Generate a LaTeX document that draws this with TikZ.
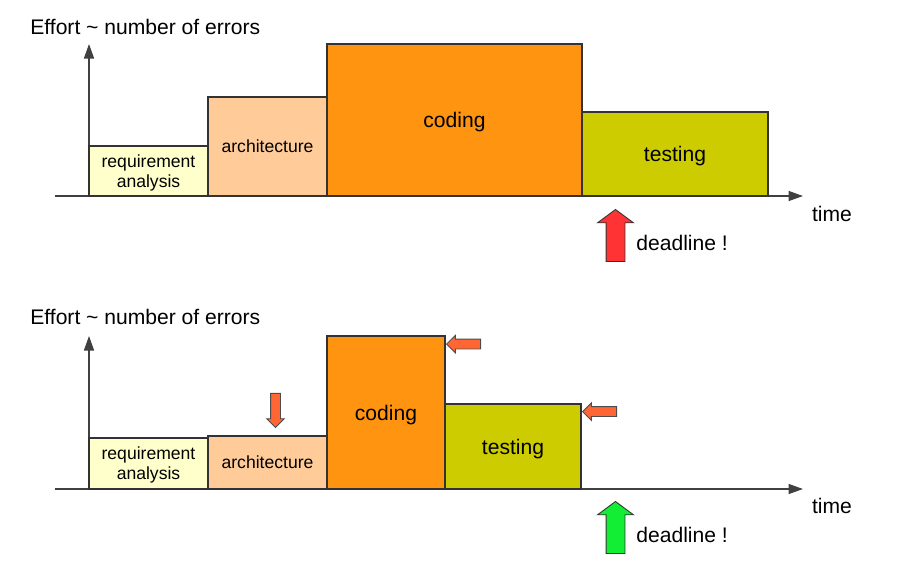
\documentclass[tikz,border=0pt]{standalone}
\usepackage{fontspec}
\setmainfont{Liberation Sans}
\usetikzlibrary{arrows.meta,positioning,shapes.arrows}

\definecolor{reqcol}{HTML}{FFFFCC}
\definecolor{archcol}{HTML}{FFCC99}
\definecolor{codcol}{HTML}{FF9411}
\definecolor{testcol}{HTML}{CCCC00}
\definecolor{hintcol}{HTML}{FF6633}
\definecolor{latecol}{HTML}{FF3333}
\definecolor{okcol}{HTML}{11EE33}

\begin{document}
\begin{tikzpicture}[
    axis/.style={
        -{Triangle[length=0.29cm,width=0.2cm]},
        line width=0.85pt,
        black!75
    },
    phase/.style={
        draw=black!80,
        line width=0.6pt,
        anchor=south west,
        align=center,
        inner sep=0pt,
        outer sep=0pt,
        text depth=0pt,
        font=\fontsize{12}{14}\selectfont
    },
    small/.style={font=\fontsize{10}{11.5}\selectfont},
    label/.style={inner sep=0pt, font=\fontsize{12}{14}\selectfont},
    deadline/.style={
        draw=black!80,
        line width=0.5pt,
        single arrow,
        shape border rotate=90,
        single arrow head extend=0.17cm,
        single arrow tip angle=107,
        minimum height=1.04cm,
        inner sep=0.18cm
    },
    hint/.style={
        draw=black!70,
        line width=0.5pt,
        fill=hintcol,
        single arrow,
        single arrow head extend=0.075cm,
        minimum height=0.68cm,
        inner sep=0.09cm
    }
]

\useasboundingbox (0,0) rectangle (17.94,-11.28);

% ============================================================
% Upper chart: late testing
% ============================================================

\node[label, anchor=west] (effort1) at (0.60,-0.54)
    {Effort \textasciitilde{} number of errors};

\coordinate (o1) at (1.78,-3.92);
\coordinate (xs1) at (1.10,-3.92);
\coordinate (xe1) at (16.06,-3.92);
\coordinate (ye1) at (1.78,-0.88);

\draw[axis] (xs1) -- (xe1);
\draw[axis] (o1) -- (ye1);

\node[phase, small, fill=reqcol, minimum width=2.38cm, minimum height=1.00cm]
    (req1) at (o1) {requirement\\analysis};

\node[phase, small, fill=archcol, minimum width=2.38cm, minimum height=1.98cm]
    (arch1) at (req1.south east) {architecture};

\node[phase, fill=codcol, minimum width=5.10cm, minimum height=3.04cm]
    (cod1) at (arch1.south east) {coding};

\node[phase, fill=testcol, minimum width=3.72cm, minimum height=1.68cm]
    (test1) at (cod1.south east) {testing};

\node[label] (time1) at (16.64,-4.28) {time};

\node[deadline, fill=latecol] (late1) at (12.31,-4.78) {};
\node[label, anchor=west] (dl1) at (12.72,-4.86) {deadline !};

% ============================================================
% Lower chart: early architecture work
% ============================================================

\node[label, anchor=west] (effort2) at (0.60,-6.34)
    {Effort \textasciitilde{} number of errors};

\coordinate (o2) at (1.78,-9.78);
\coordinate (xs2) at (1.10,-9.78);
\coordinate (xe2) at (16.06,-9.78);
\coordinate (ye2) at (1.78,-6.72);

\draw[axis] (xs2) -- (xe2);
\draw[axis] (o2) -- (ye2);

\node[phase, small, fill=reqcol, minimum width=2.38cm, minimum height=1.02cm]
    (req2) at (o2) {requirement\\analysis};

\node[phase, small, fill=archcol, minimum width=2.38cm, minimum height=1.06cm]
    (arch2) at (req2.south east) {architecture};

\node[phase, fill=codcol, minimum width=2.36cm, minimum height=3.06cm]
    (cod2) at (arch2.south east) {coding};

\node[phase, fill=testcol, minimum width=2.72cm, minimum height=1.70cm]
    (test2) at (cod2.south east) {testing};

\node[label] (time2) at (16.64,-10.12) {time};

% Shift hints
\node[hint, shape border rotate=270, anchor=tip]
    (hintarch) at ([xshift=0.16cm,yshift=0.16cm]arch2.north) {};

\node[hint, shape border rotate=180, anchor=tip]
    (hintcod) at ([xshift=0.02cm,yshift=-0.16cm]cod2.north east) {};

\node[hint, shape border rotate=180, anchor=tip]
    (hinttest) at ([xshift=0.02cm,yshift=-0.15cm]test2.north east) {};

\node[deadline, fill=okcol] (ok2) at (12.31,-10.62) {};
\node[label, anchor=west] (dl2) at (12.72,-10.70) {deadline !};

\end{tikzpicture}
\end{document}
